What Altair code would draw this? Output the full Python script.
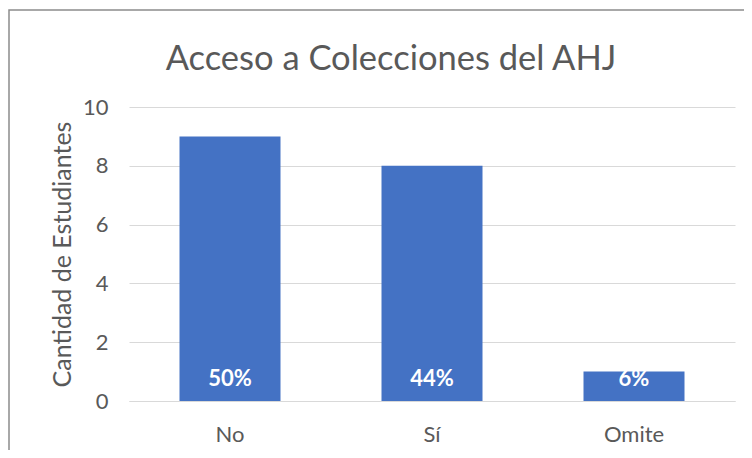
import altair as alt
import pandas as pd

categories = ["No", "Sí", "Omite"]
counts = [9, 8, 1]
pct_labels = ["50%", "44%", "6%"]

df = pd.DataFrame({"cat": categories, "n": counts, "pct": pct_labels})

W, H = 606, 294
L, T, R, B = 121, 99, 9, 49
FONT = "Lato"
GREY = "#595959"

x = alt.X("cat:N", sort=categories, title=None,
          scale=alt.Scale(paddingInner=0.5, paddingOuter=0.25),
          axis=alt.Axis(labelAngle=0, labelFontSize=22, labelColor=GREY, labelFont=FONT,
                        ticks=False, domain=True, domainColor="#d9d9d9", domainWidth=1,
                        labelPadding=23, grid=False))
y = alt.Y("n:Q", scale=alt.Scale(domain=[0, 10]),
          axis=alt.Axis(values=[0, 2, 4, 6, 8, 10], title="Cantidad de Estudiantes",
                        titleFontSize=25, titleFont=FONT, titleColor=GREY, titleFontWeight="normal",
                        titleX=-67, titleY=H / 2, titleAngle=-90, titleBaseline="middle", titleAlign="center",
                        labelFontSize=22, labelColor=GREY, labelFont=FONT, labelPadding=21,
                        ticks=False, domain=False, gridColor="#d9d9d9", gridWidth=1))

border = alt.Chart(pd.DataFrame({"a": [0]})).mark_rect(
    fill=None, stroke="#8c8c8c", strokeWidth=1.5, clip=False
).encode(x=alt.value(-L + 1), x2=alt.value(W + 40), y=alt.value(-T + 2), y2=alt.value(H + 80))

bars = alt.Chart(df).mark_bar(color="#4472C4").encode(x=x, y=y)

labels = alt.Chart(df).mark_text(
    color="white", fontWeight="bold", fontSize=22, font=FONT, baseline="middle", dy=-22
).encode(x=alt.X("cat:N", sort=categories), y=alt.datum(0), text="pct:N")

chart = alt.layer(border, bars, labels).properties(
    width=W, height=H,
    padding={"left": L, "top": T, "right": R, "bottom": B},
    autosize=alt.AutoSizeParams(type="none"),
    title=alt.TitleParams("Acceso a Colecciones del AHJ", fontSize=34.5, font=FONT, color=GREY,
                          fontWeight="normal", anchor="middle", dx=-41, offset=-68),
).configure_view(stroke=None)

chart.save("out.html", embed_options={"renderer": "svg", "actions": False})
